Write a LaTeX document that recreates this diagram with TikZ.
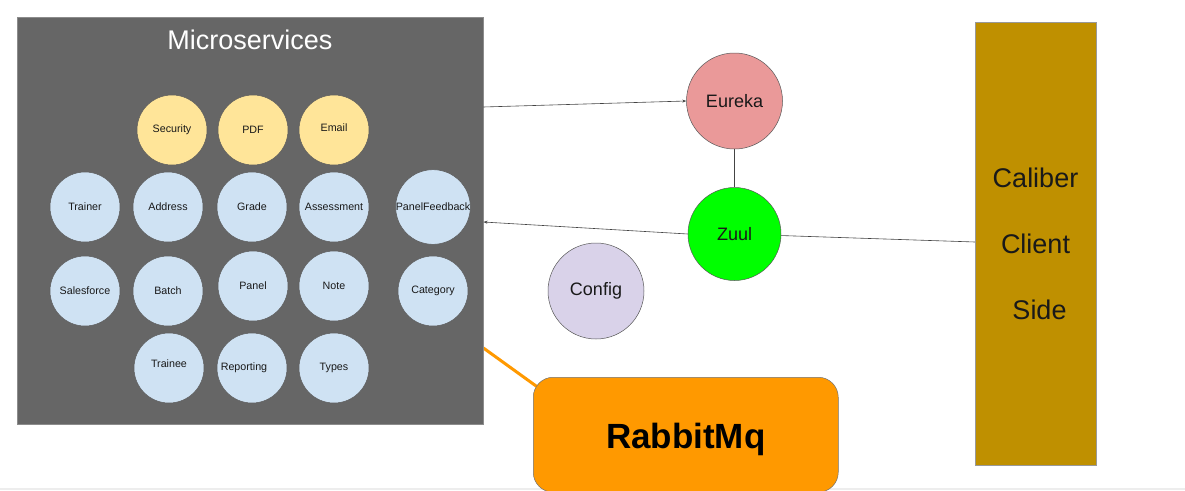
\documentclass[tikz,border=0pt]{standalone}
\usepackage{fontspec}
\setmainfont{Liberation Sans}
\usetikzlibrary{arrows.meta}
\definecolor{msgray}{HTML}{666666}
\definecolor{svcyellow}{HTML}{FFE599}
\definecolor{svcblue}{HTML}{CFE2F3}
\definecolor{eurekapink}{HTML}{EA9999}
\definecolor{zuulgreen}{HTML}{00FF00}
\definecolor{configlilac}{HTML}{D9D2E9}
\definecolor{rabbitorange}{HTML}{FF9900}
\definecolor{calibergold}{HTML}{BF9000}
\definecolor{edgegray}{HTML}{444444}
\pgfdeclarelayer{background}
\pgfdeclarelayer{paper}
\pgfsetlayers{paper,background,main}
\begin{document}
\begin{tikzpicture}[x=1pt,y=-1pt,
  svc/.style={circle, draw=black!65, line width=0.5pt, minimum size=70pt, inner sep=0pt,
              font=\fontsize{10.7}{12}\selectfont, text=black!90},
  yel/.style={svc, fill=svcyellow},
  blu/.style={svc, fill=svcblue},
  big/.style={circle, draw=black!65, line width=0.5pt, inner sep=0pt,
              font=\fontsize{18}{20}\selectfont, text=black!90},
  conn/.style={draw=edgegray, line width=0.6pt},
  arr/.style={conn, -{Stealth[length=4pt,width=3pt]}}
]
\useasboundingbox (0,0) rectangle (1185,490);
\begin{pgfonlayer}{paper}
\fill[white] (0,0) rectangle (1185,490);
\fill[black!7] (0,487.5) rectangle (1185,490);
\end{pgfonlayer}

% Microservices box
\node[fill=msgray, draw=black!45, line width=0.4pt, minimum width=466pt, minimum height=407pt,
      inner sep=0pt, anchor=north west] (ms) at (17,17) {};
\node[text=white, font=\fontsize{27}{30}\selectfont] (title) at (250,40) {Microservices};

% row 1
\node[yel] (security) at (172,130) {Security};
\node[yel] (pdf) at (253,130) {PDF};
\node[yel] (email) at (334,130) {\raisebox{4pt}{Email}};
% row 2
\node[blu] (trainer) at (85,207) {Trainer};
\node[blu] (address) at (168,207) {Address};
\node[blu] (grade) at (252,207) {\raisebox{1pt}{Grade}};
\node[blu] (assessment) at (334,207) {\raisebox{1pt}{Assessment}};
\node[blu] (panelfeedback) at (433,207) {PanelFeedback};
% row 3
\node[blu] (salesforce) at (85,291) {Salesforce};
\node[blu] (batch) at (168,291) {Batch};
\node[blu] (panel) at (253,286) {Panel};
\node[blu] (note) at (334,286) {Note};
\node[blu] (category) at (433,291) {Category};
% row 4
\node[blu] (trainee) at (169,368) {\raisebox{8pt}{Trainee}};
\node[blu] (reporting) at (252,368) {\hspace*{-16pt}Reporting};
\node[blu] (types) at (334,368) {Types};

% right-hand services
\node[big, fill=eurekapink, minimum size=96pt] (eureka) at (734.5,101) {Eureka};
\node[big, fill=zuulgreen, minimum size=93pt] (zuul) at (734.5,234) {Zuul};
\node[big, fill=configlilac, minimum size=96pt] (config) at (596,291) {Config};

% Caliber client side
\node[fill=calibergold, draw=black!40, line width=0.4pt, minimum width=121pt, minimum height=443pt,
      inner sep=0pt, align=center, font=\fontsize{27}{66}\selectfont, text=black!90]
      (caliber) at (1035.5,244) {Caliber\\Client\\\hspace*{8pt}Side};

% RabbitMq
\node[fill=rabbitorange, draw=black!55, line width=0.5pt, rounded corners=20pt,
      minimum width=305pt, minimum height=115pt, inner sep=0pt, anchor=north west,
      label={[yshift=-5pt, font=\fontsize{35}{40}\bfseries\selectfont, text=black]center:RabbitMq}]
      (rabbit) at (533,377) {};

% connectors
\draw[arr] ([yshift=-90pt]ms.north east) -- (eureka.west);
\draw[conn] (eureka) -- (zuul);
\draw[arr] (zuul.west) -- ([yshift=-205pt]ms.north east);
\draw[conn] (zuul) -- (caliber);
\begin{pgfonlayer}{background}
\draw[draw=rabbitorange, line width=3pt] ([yshift=-331pt]ms.north east) -- ([xshift=10pt,yshift=-14pt]rabbit.north west);
\end{pgfonlayer}
\end{tikzpicture}
\end{document}
